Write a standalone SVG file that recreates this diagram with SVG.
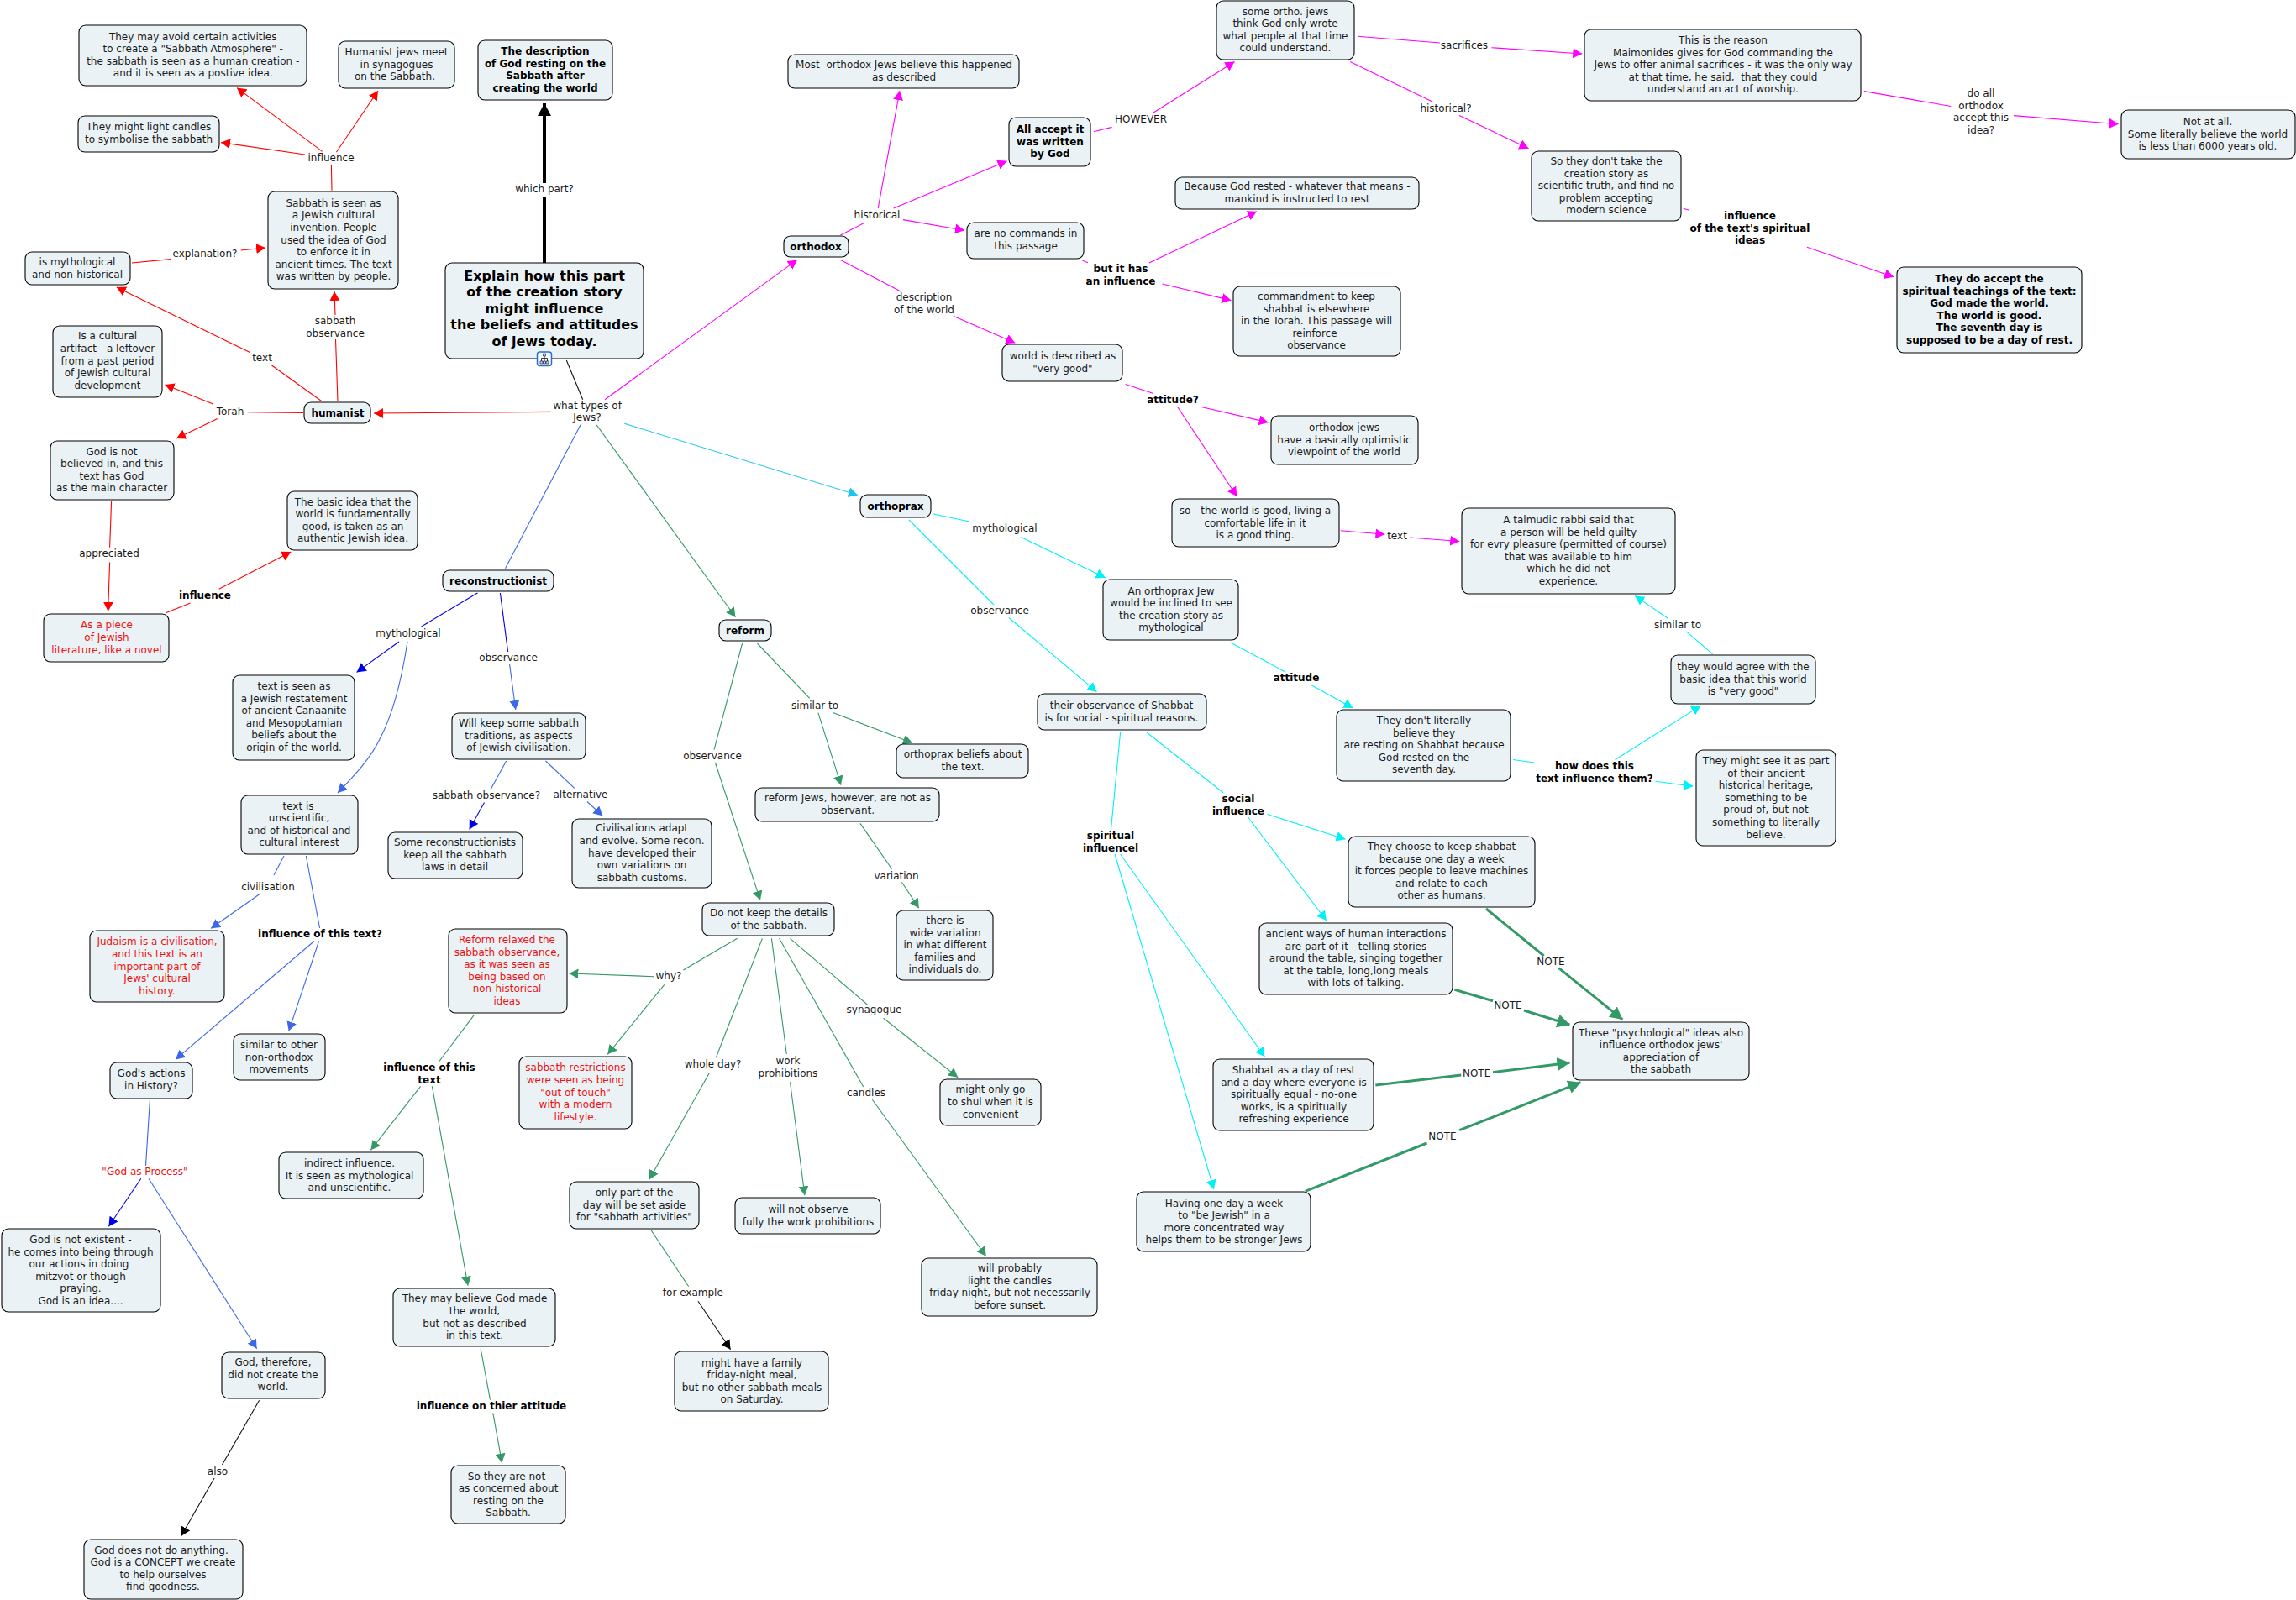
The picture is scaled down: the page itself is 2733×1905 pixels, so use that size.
<svg xmlns="http://www.w3.org/2000/svg" width="2733" height="1905" viewBox="0 0 2733 1905">
<style>
text{font-family:"DejaVu Sans","Liberation Sans",sans-serif;font-size:12px;text-anchor:middle;fill:#1a1a1a}
.b{font-weight:bold;fill:#000}
.big{font-size:16px;font-weight:bold;fill:#000}
.red{fill:#ee1111}
.node rect{fill:#ebf2f5;stroke:#000;stroke-width:1.1}
#connectors line,#connectors path{fill:none;stroke-width:1.1}
.k{stroke:#111}.r{stroke:#f00}.m{stroke:#f0f}.c{stroke:#00f0f8}.u{stroke:#1cc4ee}.l{stroke:#3c68e8}.d{stroke:#0000e6}.g{stroke:#339966}
.ka{stroke:#111;marker-end:url(#ak)}.ra{stroke:#f00;marker-end:url(#ar)}.ma{stroke:#f0f;marker-end:url(#am)}.ca{stroke:#00f0f8;marker-end:url(#ac)}.ua{stroke:#1cc4ee;marker-end:url(#au)}.la{stroke:#3c68e8;marker-end:url(#al)}.da{stroke:#0000e6;marker-end:url(#ad)}.ga{stroke:#339966;marker-end:url(#ag)}
#connectors .n{stroke:#339966;stroke-width:3}
#connectors .na{stroke:#339966;stroke-width:3;marker-end:url(#an)}
#connectors .t{stroke:#000;stroke-width:4}
#connectors .ta{stroke:#000;stroke-width:4;marker-end:url(#at)}
</style>
<defs>
<marker id="ak" markerUnits="userSpaceOnUse" markerWidth="13" markerHeight="13" refX="11" refY="6" orient="auto"><path d="M0 0L11 6L0 12Z" fill="#000"/></marker>
<marker id="ar" markerUnits="userSpaceOnUse" markerWidth="13" markerHeight="13" refX="11" refY="6" orient="auto"><path d="M0 0L11 6L0 12Z" fill="#f00"/></marker>
<marker id="am" markerUnits="userSpaceOnUse" markerWidth="13" markerHeight="13" refX="11" refY="6" orient="auto"><path d="M0 0L11 6L0 12Z" fill="#f0f"/></marker>
<marker id="ac" markerUnits="userSpaceOnUse" markerWidth="13" markerHeight="13" refX="11" refY="6" orient="auto"><path d="M0 0L11 6L0 12Z" fill="#00f0f8"/></marker>
<marker id="au" markerUnits="userSpaceOnUse" markerWidth="13" markerHeight="13" refX="11" refY="6" orient="auto"><path d="M0 0L11 6L0 12Z" fill="#1cc4ee"/></marker>
<marker id="al" markerUnits="userSpaceOnUse" markerWidth="13" markerHeight="13" refX="11" refY="6" orient="auto"><path d="M0 0L11 6L0 12Z" fill="#3c68e8"/></marker>
<marker id="ad" markerUnits="userSpaceOnUse" markerWidth="13" markerHeight="13" refX="11" refY="6" orient="auto"><path d="M0 0L11 6L0 12Z" fill="#0000e6"/></marker>
<marker id="ag" markerUnits="userSpaceOnUse" markerWidth="13" markerHeight="13" refX="11" refY="6" orient="auto"><path d="M0 0L11 6L0 12Z" fill="#339966"/></marker>
<marker id="an" markerUnits="userSpaceOnUse" markerWidth="17" markerHeight="17" refX="15" refY="8" orient="auto"><path d="M0 0L15 8L0 16Z" fill="#339966"/></marker>
<marker id="at" markerUnits="userSpaceOnUse" markerWidth="17" markerHeight="17" refX="15" refY="8" orient="auto"><path d="M0 0L15 8L0 16Z" fill="#000"/></marker>
</defs>
<g id="connectors">
<line class="ta" x1="648" y1="218" x2="648" y2="123"/><line class="t" x1="648" y1="313" x2="648" y2="234"/>
<line class="k" x1="674.3" y1="429" x2="693.7" y2="475.7"/>
<line class="ra" x1="383.7" y1="180.4" x2="282" y2="104.6"/>
<line class="ra" x1="400.5" y1="181" x2="450" y2="108"/>
<line class="ra" x1="363" y1="184" x2="263" y2="169.6"/>
<line class="r" x1="395" y1="226.8" x2="394.4" y2="196.4"/>
<line class="r" x1="157" y1="313" x2="203" y2="308.6"/>
<line class="ra" x1="286.7" y1="298" x2="316" y2="295"/>
<line class="r" x1="402" y1="478" x2="399.5" y2="404"/>
<line class="ra" x1="399" y1="375" x2="398" y2="347"/>
<line class="r" x1="382.6" y1="477.5" x2="323.5" y2="435"/>
<line class="ra" x1="297.4" y1="419.6" x2="138.8" y2="342"/>
<line class="r" x1="361" y1="491.4" x2="295" y2="490.7"/>
<line class="ra" x1="253.6" y1="481" x2="196.4" y2="457.9"/>
<line class="ra" x1="258.7" y1="498.6" x2="210" y2="522"/>
<line class="ra" x1="655.6" y1="490.4" x2="445" y2="492"/>
<line class="r" x1="132.6" y1="597" x2="130.6" y2="651.8"/>
<line class="ra" x1="130.6" y1="669.6" x2="128.6" y2="727.7"/>
<line class="r" x1="198" y1="729.5" x2="226.5" y2="718"/>
<line class="ra" x1="260.7" y1="701.3" x2="346.4" y2="657"/>
<line class="ma" x1="720" y1="475.7" x2="948.8" y2="309.4"/>
<line class="m" x1="1000.5" y1="280" x2="1029" y2="265.3"/>
<line class="ma" x1="1045.2" y1="247.8" x2="1071" y2="108.2"/>
<line class="ma" x1="1063.6" y1="248" x2="1198.5" y2="191.8"/>
<line class="ma" x1="1075" y1="261.6" x2="1148" y2="274.3"/>
<line class="m" x1="1301.8" y1="156.7" x2="1323.6" y2="151.4"/>
<line class="ma" x1="1371.9" y1="134.7" x2="1469.5" y2="73.5"/>
<line class="m" x1="1615.9" y1="43.3" x2="1714" y2="51"/>
<line class="ma" x1="1775.4" y1="56.7" x2="1883.3" y2="64"/>
<line class="m" x1="1607.2" y1="73.5" x2="1705.4" y2="121.2"/>
<line class="ma" x1="1737" y1="137.6" x2="1819.5" y2="176.7"/>
<line class="m" x1="2218.9" y1="108.6" x2="2322.2" y2="126.5"/>
<line class="ma" x1="2397" y1="137.6" x2="2521.6" y2="147.8"/>
<line class="m" x1="2003.7" y1="248.2" x2="2011" y2="250.2"/>
<line class="ma" x1="2150.8" y1="294.3" x2="2254.2" y2="329.8"/>
<line class="m" x1="1288.6" y1="310.2" x2="1295" y2="312.7"/>
<line class="ma" x1="1367.9" y1="313" x2="1495.9" y2="251.8"/>
<line class="ma" x1="1383.4" y1="338" x2="1465.4" y2="357.6"/>
<line class="m" x1="1000.5" y1="309.4" x2="1072.2" y2="347"/>
<line class="ma" x1="1134.8" y1="376.3" x2="1208.3" y2="408.2"/>
<line class="m" x1="1339.7" y1="457.6" x2="1373" y2="468.6"/>
<line class="ma" x1="1429.9" y1="484.5" x2="1509.6" y2="502.9"/>
<line class="ma" x1="1401.7" y1="484.5" x2="1472.3" y2="591"/>
<line class="ma" x1="1595.7" y1="631.8" x2="1648.4" y2="636.3"/>
<line class="ma" x1="1677.9" y1="640" x2="1737.2" y2="644.5"/>
<line class="l" x1="691.3" y1="505.4" x2="601.5" y2="676.8"/>
<line class="d" x1="568.4" y1="706" x2="501" y2="746.4"/>
<line class="da" x1="475" y1="764" x2="424.5" y2="800.4"/>
<path class="la" d="M485 764C478 810 468 850 452 880C440 905 420 925 402 944"/>
<line class="d" x1="595.4" y1="706" x2="604.6" y2="776"/>
<line class="la" x1="606.6" y1="791" x2="613.8" y2="845"/>
<line class="l" x1="602.6" y1="906" x2="584" y2="940"/>
<line class="da" x1="576.5" y1="955.4" x2="558.7" y2="987.5"/>
<line class="l" x1="649.5" y1="906" x2="683.7" y2="938.4"/>
<line class="la" x1="699" y1="954.5" x2="717.3" y2="971.4"/>
<line class="l" x1="338" y1="1019" x2="326" y2="1042"/>
<line class="la" x1="308.7" y1="1064.7" x2="251" y2="1105.4"/>
<line class="l" x1="364.3" y1="1019" x2="380.6" y2="1105"/>
<line class="la" x1="374" y1="1120.5" x2="209" y2="1261.4"/>
<line class="la" x1="379.6" y1="1120.5" x2="343.7" y2="1227.6"/>
<line class="l" x1="178.4" y1="1310" x2="173.5" y2="1388"/>
<line class="da" x1="167.8" y1="1403.3" x2="129.4" y2="1460.2"/>
<line class="la" x1="177" y1="1403.3" x2="305.7" y2="1605.8"/>
<line class="k" x1="308.6" y1="1667.3" x2="264.5" y2="1744"/>
<line class="ka" x1="255" y1="1760" x2="215.5" y2="1829"/>
<line class="ga" x1="710" y1="505.7" x2="875.4" y2="734.7"/>
<line class="g" x1="883.6" y1="766" x2="850" y2="892.7"/>
<line class="ga" x1="851.4" y1="908" x2="905" y2="1071.8"/>
<line class="g" x1="901.4" y1="766" x2="963.7" y2="831.4"/>
<line class="ga" x1="991.7" y1="848.6" x2="1086" y2="884.5"/>
<line class="ga" x1="973.9" y1="848.6" x2="1001" y2="934.7"/>
<line class="g" x1="1023.9" y1="980.4" x2="1061.6" y2="1034.7"/>
<line class="ga" x1="1073.4" y1="1050.2" x2="1093.8" y2="1081.2"/>
<line class="g" x1="877.6" y1="1117.3" x2="813.3" y2="1155"/>
<line class="ga" x1="778.4" y1="1162.7" x2="677.4" y2="1159"/>
<line class="ga" x1="790.8" y1="1172.3" x2="723.3" y2="1255.3"/>
<line class="g" x1="907.4" y1="1117.3" x2="852.3" y2="1259.3"/>
<line class="ga" x1="844.5" y1="1277.3" x2="772.9" y2="1404.3"/>
<line class="g" x1="918.4" y1="1117.3" x2="936.3" y2="1255"/>
<line class="ga" x1="940.5" y1="1288.3" x2="957.9" y2="1423.3"/>
<line class="g" x1="927.6" y1="1117.3" x2="1027.7" y2="1294"/>
<line class="ga" x1="1038.3" y1="1309.3" x2="1173.8" y2="1495.7"/>
<line class="g" x1="940.5" y1="1117.3" x2="1032.3" y2="1196"/>
<line class="ga" x1="1051.6" y1="1212.3" x2="1140.2" y2="1282.7"/>
<line class="g" x1="775.2" y1="1465" x2="819.7" y2="1531.7"/>
<line class="ka" x1="831" y1="1549.3" x2="869.6" y2="1606.7"/>
<line class="g" x1="564.4" y1="1208.3" x2="522.6" y2="1264"/>
<line class="ga" x1="500.6" y1="1293.3" x2="441.4" y2="1369.3"/>
<line class="ga" x1="514.4" y1="1293.3" x2="557" y2="1530.7"/>
<line class="g" x1="572.2" y1="1606" x2="583.5" y2="1666.7"/>
<line class="ga" x1="586.8" y1="1682.3" x2="597.5" y2="1741.7"/>
<line class="ua" x1="743.3" y1="504.3" x2="1020.8" y2="589.4"/>
<line class="c" x1="1110" y1="611.8" x2="1154" y2="621"/>
<line class="ca" x1="1215.2" y1="639.6" x2="1315.7" y2="687.8"/>
<line class="c" x1="1082" y1="619" x2="1183" y2="720"/>
<line class="ca" x1="1201" y1="735.5" x2="1305.5" y2="823.7"/>
<line class="c" x1="1464.7" y1="765" x2="1530" y2="800"/>
<line class="ca" x1="1559.6" y1="815" x2="1610.4" y2="842.9"/>
<line class="c" x1="1333.6" y1="872" x2="1322.4" y2="988.6"/>
<line class="c" x1="1365" y1="872" x2="1456" y2="943.7"/>
<line class="ca" x1="1508.6" y1="969.4" x2="1601.5" y2="999.2"/>
<line class="ca" x1="1485.6" y1="973" x2="1578.8" y2="1096"/>
<line class="ca" x1="1327" y1="1017" x2="1444.9" y2="1416"/>
<line class="ca" x1="1333.6" y1="1017" x2="1505.5" y2="1258.3"/>
<line class="c" x1="2038.6" y1="778.8" x2="2007.3" y2="751.8"/>
<line class="ca" x1="1985.4" y1="736.3" x2="1946.2" y2="709.4"/>
<line class="c" x1="1801" y1="904.5" x2="1826" y2="908"/>
<line class="ca" x1="1922.5" y1="904.5" x2="2024.3" y2="840.4"/>
<line class="ca" x1="1970.7" y1="930.2" x2="2015.4" y2="936.3"/>
<line class="n" x1="1769" y1="1082" x2="1837.7" y2="1138"/>
<line class="na" x1="1855.5" y1="1152.6" x2="1931.4" y2="1213.9"/>
<line class="n" x1="1731.5" y1="1178.3" x2="1777" y2="1191.7"/>
<line class="na" x1="1814" y1="1203" x2="1868.5" y2="1220"/>
<line class="n" x1="1637.3" y1="1292" x2="1739.3" y2="1280"/>
<line class="na" x1="1777" y1="1276.7" x2="1868.5" y2="1265.3"/>
<line class="n" x1="1553.7" y1="1418.3" x2="1698.5" y2="1361"/>
<line class="na" x1="1737.2" y1="1345.7" x2="1881.6" y2="1288.7"/>
</g>
<g id="n1" class="node"><rect x="94" y="30" width="271" height="72" rx="8"/><text y="47.6"><tspan x="229.7">They may avoid certain activities</tspan><tspan x="229.7" dy="14.6">to create a "Sabbath Atmosphere" -</tspan><tspan x="229.7" dy="14.6">the sabbath is seen as a human creation -</tspan><tspan x="229.7" dy="14.6">and it is seen as a postive idea.</tspan></text></g>
<g id="n2" class="node"><rect x="403" y="49" width="138" height="56" rx="8"/><text y="65.9"><tspan x="472">Humanist jews meet</tspan><tspan x="472" dy="14.6">in synagogues</tspan><tspan x="470" dy="14.6">on the Sabbath.</tspan></text></g>
<g id="n3" class="node"><rect x="569" y="48" width="160" height="71" rx="8"/><text class="b" y="65.1"><tspan x="649">The description</tspan><tspan x="649" dy="14.6">of God resting on the</tspan><tspan x="649" dy="14.6">Sabbath after</tspan><tspan x="649" dy="14.6">creating the world</tspan></text></g>
<g id="n4" class="node"><rect x="93" y="138" width="168" height="43" rx="8"/><text y="155.2"><tspan x="177">They might light candles</tspan><tspan x="177" dy="14.6">to symbolise the sabbath</tspan></text></g>
<g id="n5" class="node"><rect x="319" y="228" width="155" height="116" rx="8"/><text y="245.7"><tspan x="397">Sabbath is seen as</tspan><tspan x="397" dy="14.6">a Jewish cultural</tspan><tspan x="397" dy="14.6">invention. People</tspan><tspan x="397" dy="14.6">used the idea of God</tspan><tspan x="397" dy="14.6">to enforce it in</tspan><tspan x="397" dy="14.6">ancient times. The text</tspan><tspan x="397" dy="14.6">was written by people.</tspan></text></g>
<g id="n6" class="node"><rect x="30" y="300" width="125" height="39" rx="8"/><text y="315.9"><tspan x="92">is mythological</tspan><tspan x="92" dy="14.6">and non-historical</tspan></text></g>
<g id="n7" class="node"><rect x="530" y="313" width="236" height="114" rx="8"/><text class="big" y="333.5"><tspan x="648">Explain how this part</tspan><tspan x="648" dy="19.5">of the creation story</tspan><tspan x="648" dy="19.5">might influence</tspan><tspan x="648" dy="19.5">the beliefs and attitudes</tspan><tspan x="648" dy="19.5">of jews today.</tspan></text>
<rect x="639.5" y="419" width="17" height="16.5" rx="3" style="fill:#f4f8ff;stroke:#2a6fc9;stroke-width:1.5"/><path d="M648 424V426.5M644.5 430V426.5H651.5V430M648 426.5V430" fill="none" stroke="#334" stroke-width="1"/><path d="M646.5 421h3v3h-3zM643 430h3v3h-3zM646.5 430h3v3h-3zM650 430h3v3h-3z" fill="#c9d4ee" stroke="#224" stroke-width=".7"/></g>
<g id="n8" class="node"><rect x="63" y="388" width="130" height="85" rx="8"/><text y="404.3"><tspan x="128">Is a cultural</tspan><tspan x="128" dy="14.6">artifact - a leftover</tspan><tspan x="128" dy="14.6">from a past period</tspan><tspan x="128" dy="14.6">of Jewish cultural</tspan><tspan x="128" dy="14.6">development</tspan></text></g>
<g id="n9" class="node"><rect x="362" y="479" width="79" height="25" rx="8"/><text class="b" x="402" y="495.5">humanist</text></g>
<g id="n10" class="node"><rect x="60" y="525" width="147" height="70" rx="8"/><text y="541.6"><tspan x="133">God is not</tspan><tspan x="133" dy="14.6">believed in, and this</tspan><tspan x="133" dy="14.6">text has God</tspan><tspan x="133" dy="14.6">as the main character</tspan></text></g>
<g id="n11" class="node"><rect x="342" y="585" width="155" height="70" rx="8"/><text y="601.6"><tspan x="420">The basic idea that the</tspan><tspan x="420" dy="14.6">world is fundamentally</tspan><tspan x="420" dy="14.6">good, is taken as an</tspan><tspan x="420" dy="14.6">authentic Jewish idea.</tspan></text></g>
<g id="n12" class="node"><rect x="52" y="731" width="149" height="57" rx="8"/><text class="red" y="748.4"><tspan x="127">As a piece</tspan><tspan x="127" dy="14.6">of Jewish</tspan><tspan x="127" dy="14.6">literature, like a novel</tspan></text></g>
<g id="n13" class="node"><rect x="527" y="679" width="132" height="25" rx="8"/><text class="b" x="593" y="695.5">reconstructionist</text></g>
<g id="n14" class="node"><rect x="277" y="804" width="145" height="101" rx="8"/><text y="821"><tspan x="350">text is seen as</tspan><tspan x="350" dy="14.6">a Jewish restatement</tspan><tspan x="350" dy="14.6">of ancient Canaanite</tspan><tspan x="350" dy="14.6">and Mesopotamian</tspan><tspan x="350" dy="14.6">beliefs about the</tspan><tspan x="350" dy="14.6">origin of the world.</tspan></text></g>
<g id="n15" class="node"><rect x="538" y="849" width="159" height="55" rx="8"/><text y="865"><tspan x="617.5">Will keep some sabbath</tspan><tspan x="617.5" dy="14.6">traditions, as aspects</tspan><tspan x="617.5" dy="14.6">of Jewish civilisation.</tspan></text></g>
<g id="n16" class="node"><rect x="287" y="947" width="139" height="70" rx="8"/><text y="963.6"><tspan x="355">text is</tspan><tspan x="356" dy="14.6">unscientific,</tspan><tspan x="356" dy="14.6">and of historical and</tspan><tspan x="356" dy="14.6">cultural interest</tspan></text></g>
<g id="n17" class="node"><rect x="462" y="991" width="160" height="55" rx="8"/><text y="1006.9"><tspan x="541.5">Some reconstructionists</tspan><tspan x="541.5" dy="14.6">keep all the sabbath</tspan><tspan x="541.5" dy="14.6">laws in detail</tspan></text></g>
<g id="n18" class="node"><rect x="681" y="975" width="166" height="82" rx="8"/><text y="990.3"><tspan x="764">Civilisations adapt</tspan><tspan x="764" dy="14.6">and evolve. Some recon.</tspan><tspan x="764" dy="14.6">have developed their</tspan><tspan x="764" dy="14.6">own variations on</tspan><tspan x="764" dy="14.6">sabbath customs.</tspan></text></g>
<g id="n19" class="node"><rect x="107" y="1108" width="160" height="85" rx="8"/><text class="red" y="1125.3"><tspan x="187">Judaism is a civilisation,</tspan><tspan x="187" dy="14.6">and this text is an</tspan><tspan x="187" dy="14.6">important part of</tspan><tspan x="187" dy="14.6">Jews' cultural</tspan><tspan x="187" dy="14.6">history.</tspan></text></g>
<g id="n20" class="node"><rect x="534" y="1106" width="141" height="100" rx="8"/><text class="red" y="1123"><tspan x="603.5">Reform relaxed the</tspan><tspan x="603.5" dy="14.6">sabbath observance,</tspan><tspan x="603.5" dy="14.6">as it was seen as</tspan><tspan x="603.5" dy="14.6">being based on</tspan><tspan x="603.5" dy="14.6">non-historical</tspan><tspan x="603.5" dy="14.6">ideas</tspan></text></g>
<g id="n21" class="node"><rect x="836" y="1075" width="157" height="39" rx="8"/><text y="1091"><tspan x="915">Do not keep the details</tspan><tspan x="915" dy="14.6">of the sabbath.</tspan></text></g>
<g id="n22" class="node"><rect x="1067" y="1084" width="115" height="83" rx="8"/><text y="1100"><tspan x="1125">there is</tspan><tspan x="1125" dy="14.6">wide variation</tspan><tspan x="1125" dy="14.6">in what different</tspan><tspan x="1125" dy="14.6">families and</tspan><tspan x="1125" dy="14.6">individuals do.</tspan></text></g>
<g id="n23" class="node"><rect x="1024" y="589" width="84" height="27" rx="8"/><text class="b" x="1066" y="607">orthoprax</text></g>
<g id="n24" class="node"><rect x="856" y="738" width="62" height="25" rx="8"/><text class="b" x="887" y="755">reform</text></g>
<g id="n25" class="node"><rect x="1313" y="690" width="161" height="72" rx="8"/><text y="707.6"><tspan x="1394">An orthoprax Jew</tspan><tspan x="1394" dy="14.6">would be inclined to see</tspan><tspan x="1394" dy="14.6">the creation story as</tspan><tspan x="1394" dy="14.6">mythological</tspan></text></g>
<g id="n26" class="node"><rect x="1395" y="594" width="199" height="57" rx="8"/><text y="611.9"><tspan x="1494">so - the world is good, living a</tspan><tspan x="1494" dy="14.6">comfortable life in it</tspan><tspan x="1494" dy="14.6">is a good thing.</tspan></text></g>
<g id="n27" class="node"><rect x="1235" y="826" width="201" height="43" rx="8"/><text y="844"><tspan x="1335">their observance of Shabbat</tspan><tspan x="1335" dy="14.6">is for social - spiritual reasons.</tspan></text></g>
<g id="n28" class="node"><rect x="1067" y="886" width="157" height="40" rx="8"/><text y="902"><tspan x="1146">orthoprax beliefs about</tspan><tspan x="1146" dy="14.6">the text.</tspan></text></g>
<g id="n29" class="node"><rect x="899" y="938" width="219" height="40" rx="8"/><text y="954"><tspan x="1009">reform Jews, however, are not as</tspan><tspan x="1009" dy="14.6">observant.</tspan></text></g>
<g id="n30" class="node"><rect x="618" y="1258" width="134" height="86" rx="8"/><text class="red" y="1275.3"><tspan x="685">sabbath restrictions</tspan><tspan x="685" dy="14.6">were seen as being</tspan><tspan x="685" dy="14.6">"out of touch"</tspan><tspan x="685" dy="14.6">with a modern</tspan><tspan x="685" dy="14.6">lifestyle.</tspan></text></g>
<g id="n31" class="node"><rect x="678" y="1407" width="154" height="56" rx="8"/><text y="1423.9"><tspan x="755">only part of the</tspan><tspan x="755" dy="14.6">day will be set aside</tspan><tspan x="755" dy="14.6">for "sabbath activities"</tspan></text></g>
<g id="n32" class="node"><rect x="875" y="1426" width="173" height="43" rx="8"/><text y="1444"><tspan x="962">will not observe</tspan><tspan x="962" dy="14.6">fully the work prohibitions</tspan></text></g>
<g id="n33" class="node"><rect x="1119" y="1285" width="120" height="55" rx="8"/><text y="1301.4"><tspan x="1179">might only go</tspan><tspan x="1179" dy="14.6">to shul when it is</tspan><tspan x="1179" dy="14.6">convenient</tspan></text></g>
<g id="n34" class="node"><rect x="1097" y="1498" width="209" height="69" rx="8"/><text y="1514"><tspan x="1202">will probably</tspan><tspan x="1202" dy="14.6">light the candles</tspan><tspan x="1202" dy="14.6">friday night, but not necessarily</tspan><tspan x="1202" dy="14.6">before sunset.</tspan></text></g>
<g id="n35" class="node"><rect x="803" y="1609" width="183" height="71" rx="8"/><text y="1626.6"><tspan x="895">might have a family</tspan><tspan x="895" dy="14.6">friday-night meal,</tspan><tspan x="895" dy="14.6">but no other sabbath meals</tspan><tspan x="895" dy="14.6">on Saturday.</tspan></text></g>
<g id="n36" class="node"><rect x="468" y="1534" width="193" height="69" rx="8"/><text y="1550.4"><tspan x="565">They may believe God made</tspan><tspan x="565" dy="14.6">the world,</tspan><tspan x="565" dy="14.6">but not as described</tspan><tspan x="565" dy="14.6">in this text.</tspan></text></g>
<g id="n37" class="node"><rect x="537" y="1745" width="136" height="69" rx="8"/><text y="1761.6"><tspan x="603">So they are not</tspan><tspan x="605" dy="14.6">as concerned about</tspan><tspan x="605" dy="14.6">resting on the</tspan><tspan x="605" dy="14.6">Sabbath.</tspan></text></g>
<g id="n38" class="node"><rect x="278" y="1231" width="109" height="55" rx="8"/><text y="1248"><tspan x="332">similar to other</tspan><tspan x="332" dy="14.6">non-orthodox</tspan><tspan x="332" dy="14.6">movements</tspan></text></g>
<g id="n39" class="node"><rect x="131" y="1265" width="98" height="43" rx="8"/><text y="1282"><tspan x="180">God's actions</tspan><tspan x="180" dy="14.6">in History?</tspan></text></g>
<g id="n40" class="node"><rect x="332" y="1372" width="172" height="55" rx="8"/><text y="1389"><tspan x="416">indirect influence.</tspan><tspan x="416" dy="14.6">It is seen as mythological</tspan><tspan x="416" dy="14.6">and unscientific.</tspan></text></g>
<g id="n41" class="node"><rect x="2" y="1463" width="189" height="99" rx="8"/><text y="1480"><tspan x="96">God is not existent -</tspan><tspan x="96" dy="14.6">he comes into being through</tspan><tspan x="94" dy="14.6">our actions in doing</tspan><tspan x="96" dy="14.6">mitzvot or though</tspan><tspan x="96" dy="14.6">praying.</tspan><tspan x="96" dy="14.6">God is an idea....</tspan></text></g>
<g id="n42" class="node"><rect x="264" y="1610" width="123" height="55" rx="8"/><text y="1626"><tspan x="325">God, therefore,</tspan><tspan x="325" dy="14.6">did not create the</tspan><tspan x="325" dy="14.6">world.</tspan></text></g>
<g id="n43" class="node"><rect x="100" y="1833" width="189" height="71" rx="8"/><text y="1849.6"><tspan x="192">God does not do anything.</tspan><tspan x="194" dy="14.6">God is a CONCEPT we create</tspan><tspan x="194" dy="14.6">to help ourselves</tspan><tspan x="194" dy="14.6">find goodness.</tspan></text></g>
<g id="n44" class="node"><rect x="938" y="65" width="275" height="40" rx="8"/><text y="81"><tspan x="1076" xml:space="preserve">Most  orthodox Jews believe this happened</tspan><tspan x="1076" dy="14.6">as described</tspan></text></g>
<g id="n45" class="node"><rect x="1201" y="140" width="97" height="58" rx="8"/><text class="b" y="158"><tspan x="1250">All accept it</tspan><tspan x="1250" dy="14.6">was written</tspan><tspan x="1250" dy="14.6">by God</tspan></text></g>
<g id="n46" class="node"><rect x="1448" y="1" width="164" height="70" rx="8"/><text y="17.6"><tspan x="1530">some ortho. jews</tspan><tspan x="1530" dy="14.6">think God only wrote</tspan><tspan x="1530" dy="14.6">what people at that time</tspan><tspan x="1530" dy="14.6">could understand.</tspan></text></g>
<g id="n47" class="node"><rect x="1399" y="211" width="290" height="38" rx="8"/><text y="226"><tspan x="1544">Because God rested - whatever that means -</tspan><tspan x="1544" dy="14.6">mankind is instructed to rest</tspan></text></g>
<g id="n48" class="node"><rect x="1151" y="265" width="139" height="43" rx="8"/><text y="282"><tspan x="1221">are no commands in</tspan><tspan x="1221" dy="14.6">this passage</tspan></text></g>
<g id="n49" class="node"><rect x="933" y="281" width="77" height="25" rx="8"/><text class="b" x="971" y="298">orthodox</text></g>
<g id="n50" class="node"><rect x="1468" y="341" width="199" height="83" rx="8"/><text y="357"><tspan x="1567">commandment to keep</tspan><tspan x="1567" dy="14.6">shabbat is elsewhere</tspan><tspan x="1567" dy="14.6">in the Torah. This passage will</tspan><tspan x="1565" dy="14.6">reinforce</tspan><tspan x="1567" dy="14.6">observance</tspan></text></g>
<g id="n51" class="node"><rect x="1193" y="410" width="143" height="44" rx="8"/><text y="428"><tspan x="1265">world is described as</tspan><tspan x="1265" dy="14.6">"very good"</tspan></text></g>
<g id="n52" class="node"><rect x="1513" y="495" width="175" height="58" rx="8"/><text y="513"><tspan x="1600">orthodox jews</tspan><tspan x="1600" dy="14.6">have a basically optimistic</tspan><tspan x="1600" dy="14.6">viewpoint of the world</tspan></text></g>
<g id="n53" class="node"><rect x="1886" y="35" width="329" height="85" rx="8"/><text y="52"><tspan x="2051">This is the reason</tspan><tspan x="2051" dy="14.6">Maimonides gives for God commanding the</tspan><tspan x="2051" dy="14.6">Jews to offer animal sacrifices - it was the only way</tspan><tspan x="2051" dy="14.6" xml:space="preserve">at that time, he said,  that they could</tspan><tspan x="2051" dy="14.6">understand an act of worship.</tspan></text></g>
<g id="n54" class="node"><rect x="1823" y="180" width="178" height="83" rx="8"/><text y="196"><tspan x="1912">So they don't take the</tspan><tspan x="1912" dy="14.6">creation story as</tspan><tspan x="1912" dy="14.6">scientific truth, and find no</tspan><tspan x="1912" dy="14.6">problem accepting</tspan><tspan x="1912" dy="14.6">modern science</tspan></text></g>
<g id="n55" class="node"><rect x="2525" y="131" width="207" height="58" rx="8"/><text y="149"><tspan x="2628">Not at all.</tspan><tspan x="2628" dy="14.6">Some literally believe the world</tspan><tspan x="2628" dy="14.6">is less than 6000 years old.</tspan></text></g>
<g id="n56" class="node"><rect x="2258" y="318" width="220" height="102" rx="8"/><text class="b" y="336"><tspan x="2368">They do accept the</tspan><tspan x="2368" dy="14.6">spiritual teachings of the text:</tspan><tspan x="2368" dy="14.6">God made the world.</tspan><tspan x="2368" dy="14.6">The world is good.</tspan><tspan x="2368" dy="14.6">The seventh day is</tspan><tspan x="2368" dy="14.6">supposed to be a day of rest.</tspan></text></g>
<g id="n57" class="node"><rect x="1740" y="605" width="254" height="102" rx="8"/><text y="623"><tspan x="1867">A talmudic rabbi said that</tspan><tspan x="1867" dy="14.6">a person will be held guilty</tspan><tspan x="1867" dy="14.6">for evry pleasure (permitted of course)</tspan><tspan x="1867" dy="14.6">that was available to him</tspan><tspan x="1867" dy="14.6">which he did not</tspan><tspan x="1867" dy="14.6">experience.</tspan></text></g>
<g id="n58" class="node"><rect x="1989" y="780" width="172" height="58" rx="8"/><text y="798"><tspan x="2075">they would agree with the</tspan><tspan x="2075" dy="14.6">basic idea that this world</tspan><tspan x="2075" dy="14.6">is "very good"</tspan></text></g>
<g id="n59" class="node"><rect x="1591" y="845" width="207" height="85" rx="8"/><text y="862"><tspan x="1695">They don't literally</tspan><tspan x="1695" dy="14.6">believe they</tspan><tspan x="1695" dy="14.6">are resting on Shabbat because</tspan><tspan x="1695" dy="14.6">God rested on the</tspan><tspan x="1695" dy="14.6">seventh day.</tspan></text></g>
<g id="n60" class="node"><rect x="2019" y="893" width="166" height="114" rx="8"/><text y="910"><tspan x="2102">They might see it as part</tspan><tspan x="2102" dy="14.6">of their ancient</tspan><tspan x="2102" dy="14.6">historical heritage,</tspan><tspan x="2102" dy="14.6">something to be</tspan><tspan x="2102" dy="14.6">proud of, but not</tspan><tspan x="2102" dy="14.6">something to literally</tspan><tspan x="2102" dy="14.6">believe.</tspan></text></g>
<g id="n61" class="node"><rect x="1605" y="996" width="222" height="84" rx="8"/><text y="1012"><tspan x="1716">They choose to keep shabbat</tspan><tspan x="1716" dy="14.6">because one day a week</tspan><tspan x="1716" dy="14.6">it forces people to leave machines</tspan><tspan x="1716" dy="14.6">and relate to each</tspan><tspan x="1716" dy="14.6">other as humans.</tspan></text></g>
<g id="n62" class="node"><rect x="1499" y="1099" width="230" height="85" rx="8"/><text y="1116"><tspan x="1614">ancient ways of human interactions</tspan><tspan x="1614" dy="14.6">are part of it - telling stories</tspan><tspan x="1614" dy="14.6">around the table, singing together</tspan><tspan x="1614" dy="14.6">at the table, long,long meals</tspan><tspan x="1614" dy="14.6">with lots of talking.</tspan></text></g>
<g id="n63" class="node"><rect x="1872" y="1217" width="210" height="69" rx="8"/><text y="1233.6"><tspan x="1977">These "psychological" ideas also</tspan><tspan x="1977" dy="14.6">influence orthodox jews'</tspan><tspan x="1977" dy="14.6">appreciation of</tspan><tspan x="1977" dy="14.6">the sabbath</tspan></text></g>
<g id="n64" class="node"><rect x="1444" y="1261" width="191" height="85" rx="8"/><text y="1278"><tspan x="1540">Shabbat as a day of rest</tspan><tspan x="1540" dy="14.6">and a day where everyone is</tspan><tspan x="1540" dy="14.6">spiritually equal - no-one</tspan><tspan x="1540" dy="14.6">works, is a spiritually</tspan><tspan x="1540" dy="14.6">refreshing experience</tspan></text></g>
<g id="n65" class="node"><rect x="1353" y="1419" width="207" height="71" rx="8"/><text y="1436.6"><tspan x="1457">Having one day a week</tspan><tspan x="1457" dy="14.6">to "be Jewish" in a</tspan><tspan x="1457" dy="14.6">more concentrated way</tspan><tspan x="1457" dy="14.6">helps them to be stronger Jews</tspan></text></g>
<g id="labels">
<text x="648" y="229">which part?</text>
<text x="394" y="192">influence</text>
<text x="244" y="306">explanation?</text>
<text y="386"><tspan x="399">sabbath</tspan><tspan x="399" dy="14.6">observance</tspan></text>
<text x="312" y="430">text</text>
<text x="274" y="494">Torah</text>
<text y="486.5"><tspan x="699">what types of</tspan><tspan x="699" dy="14.6">Jews?</tspan></text>
<text x="130" y="663">appreciated</text>
<text class="b" x="244" y="713">influence</text>
<text x="486" y="758">mythological</text>
<text x="605" y="787">observance</text>
<text x="579" y="951">sabbath observance?</text>
<text x="691" y="950">alternative</text>
<text x="319" y="1060">civilisation</text>
<text class="b" x="381" y="1116">influence of this text?</text>
<text class="red" x="172.4" y="1399">"God as Process"</text>
<text x="259" y="1756">also</text>
<text class="b" y="1275"><tspan x="511">influence of this</tspan><tspan x="511" dy="14.6">text</tspan></text>
<text class="b" x="585" y="1678">influence on thier attitude</text>
<text x="796" y="1166">why?</text>
<text x="848.6" y="1270.7">whole day?</text>
<text y="1267"><tspan x="938">work</tspan><tspan x="938" dy="14.6">prohibitions</tspan></text>
<text x="1031" y="1305">candles</text>
<text x="1040.5" y="1205.7">synagogue</text>
<text x="824.8" y="1543">for example</text>
<text x="848" y="904">observance</text>
<text x="970" y="844">similar to</text>
<text x="1067" y="1046.5">variation</text>
<text x="1196" y="633">mythological</text>
<text x="1190" y="731">observance</text>
<text class="b" x="1543" y="811">attitude</text>
<text class="b" y="955"><tspan x="1474">social</tspan><tspan x="1474" dy="14.6">influence</tspan></text>
<text class="b" y="999"><tspan x="1322">spiritual</tspan><tspan x="1322" dy="14.6">influencel</tspan></text>
<text x="1044" y="260">historical</text>
<text x="1358" y="145.6">HOWEVER</text>
<text class="b" y="324"><tspan x="1334">but it has</tspan><tspan x="1334" dy="14.6">an influence</tspan></text>
<text y="358"><tspan x="1100">description</tspan><tspan x="1100" dy="14.6">of the world</tspan></text>
<text class="b" x="1396" y="480">attitude?</text>
<text x="1721" y="133">historical?</text>
<text x="1743" y="58">sacrifices</text>
<text y="115"><tspan x="2358">do all</tspan><tspan x="2358" dy="14.6">orthodox</tspan><tspan x="2358" dy="14.6">accept this</tspan><tspan x="2358" dy="14.6">idea?</tspan></text>
<text class="b" y="261"><tspan x="2083">influence</tspan><tspan x="2083" dy="14.6">of the text's spiritual</tspan><tspan x="2083" dy="14.6">ideas</tspan></text>
<text x="1663" y="642">text</text>
<text x="1997" y="748">similar to</text>
<text class="b" y="916"><tspan x="1898">how does this</tspan><tspan x="1898" dy="14.6">text influence them?</tspan></text>
<text x="1846" y="1148.5">NOTE</text>
<text x="1795" y="1201">NOTE</text>
<text x="1757.6" y="1281.7">NOTE</text>
<text x="1717" y="1356.6">NOTE</text>
</g>
</svg>
